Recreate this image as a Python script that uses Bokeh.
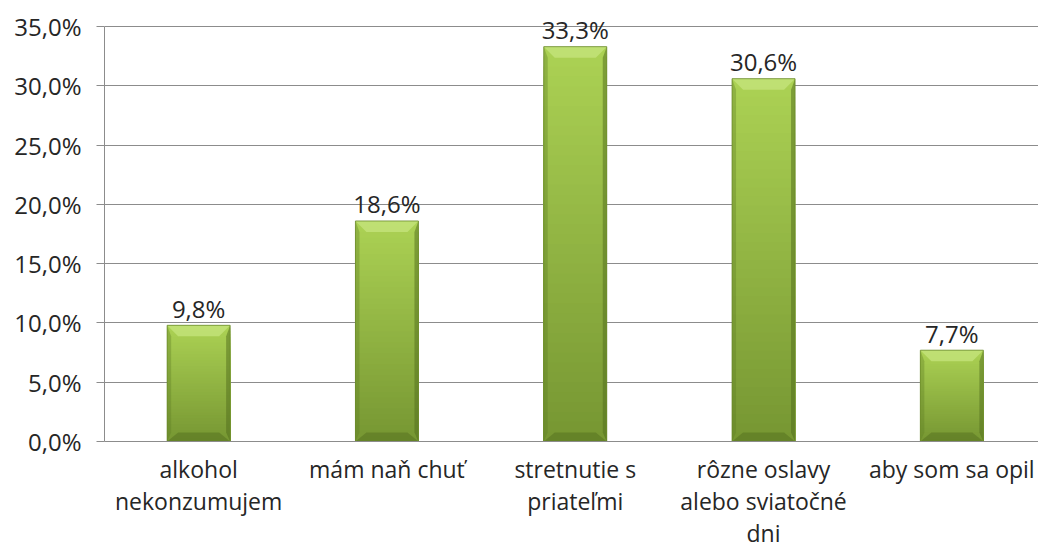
import numpy as np
from bokeh.plotting import figure
from bokeh.models import Range1d, FixedTicker
from bokeh.core.properties import value
from bokeh.embed import file_html
from bokeh.resources import INLINE

# Reasons for drinking alcohol (share of respondents, %)
categories = [
    "alkohol\nnekonzumujem",
    "mám naň chuť",
    "stretnutie s\npriateľmi",
    "rôzne oslavy\nalebo sviatočné\ndni",
    "aby som sa opil",
]
shares = [9.8, 18.6, 33.3, 30.6, 7.7]
y_ticks = [0, 5, 10, 15, 20, 25, 30, 35]
y_tick_labels = ["0,0%", "5,0%", "10,0%", "15,0%", "20,0%", "25,0%", "30,0%", "35,0%"]

FONT = "Open Sans"
TEXT_COLOR = "#262626"
GRID_COLOR = "#8c8c8c"

W, H = 1038, 551
LEFT, BOTTOM = 104, 110
frame_w = W - LEFT
frame_h = H - BOTTOM
PX_PER_CAT = 188.3          # horizontal pixels per category slot
PX_PER_PCT = 11.857         # vertical pixels per percentage point

xs = np.arange(len(categories)) + 0.5
vals = np.array(shares, dtype=float)

p = figure(
    width=W, height=H, output_backend="svg", toolbar_location=None,
    x_range=Range1d(0, frame_w / PX_PER_CAT),
    y_range=Range1d(0, frame_h / PX_PER_PCT),
    min_border_left=LEFT, min_border_right=0, min_border_top=0,
    min_border_bottom=BOTTOM,
)
p.outline_line_color = None
p.background_fill_color = "white"
p.border_fill_color = "white"

# grid
p.xgrid.visible = False
p.ygrid.ticker = FixedTicker(ticks=y_ticks)
p.ygrid.grid_line_color = GRID_COLOR
p.ygrid.grid_line_width = 1

# y axis
p.yaxis.ticker = FixedTicker(ticks=y_ticks)
p.yaxis.major_label_overrides = {t: s for t, s in zip(y_ticks, y_tick_labels)}
p.yaxis.bounds = (0, 35)
p.yaxis.axis_line_color = GRID_COLOR
p.yaxis.major_tick_line_color = GRID_COLOR
p.yaxis.major_tick_out = 8
p.yaxis.major_tick_in = 0
p.yaxis.minor_tick_line_color = None
p.yaxis.major_label_standoff = 15
p.yaxis.major_label_text_font = FONT
p.yaxis.major_label_text_font_size = "24px"
p.yaxis.major_label_text_color = TEXT_COLOR

# x axis
p.xaxis.ticker = FixedTicker(ticks=list(xs))
p.xaxis.major_label_overrides = {float(x): c for x, c in zip(xs, categories)}
p.xaxis.axis_line_color = GRID_COLOR
p.xaxis.major_tick_line_color = None
p.xaxis.major_tick_out = 0
p.xaxis.major_tick_in = 0
p.xaxis.minor_tick_line_color = None
p.xaxis.major_label_standoff = 11
p.xaxis.major_label_text_font = FONT
p.xaxis.major_label_text_font_size = "23px"
p.xaxis.major_label_text_color = TEXT_COLOR
p.xaxis.major_label_text_line_height = 1.0

# bars: vertical gradient body, drawn as nested quads from the top colour
# (full height) down to the bottom colour (shortest), so no seams appear
bar_w = 63 / PX_PER_CAT
half = bar_w / 2
top_rgb = np.array([172, 210, 84])
bot_rgb = np.array([118, 150, 50])
n_slices = 40
l, r, t, cols = [], [], [], []
for k in range(n_slices, 0, -1):
    frac = (k - 0.5) / n_slices
    c = bot_rgb + (top_rgb - bot_rgb) * frac
    hexc = "#%02x%02x%02x" % tuple(int(round(q)) for q in c)
    for x, v in zip(xs, vals):
        l.append(x - half)
        r.append(x + half)
        t.append(v * k / n_slices)
        cols.append(hexc)
p.quad(left=l, right=r, bottom=0, top=t, fill_color=cols, line_color=None)

# bevel facets
bx_top = 11 / PX_PER_CAT
by_top = 11 / PX_PER_PCT
bx_side = 4 / PX_PER_CAT
by_bot = 9 / PX_PER_PCT
top_x, top_y, side_l_x, side_l_y, side_r_x, side_r_y, bot_x, bot_y = ([] for _ in range(8))
for x, v in zip(xs, vals):
    xl, xr = x - half, x + half
    top_x.append([xl, xr, xr - bx_top, xl + bx_top])
    top_y.append([v, v, v - by_top, v - by_top])
    side_l_x.append([xl, xl + bx_side, xl + bx_side, xl])
    side_l_y.append([v, v - by_top, by_bot, 0])
    side_r_x.append([xr, xr - bx_side, xr - bx_side, xr])
    side_r_y.append([v, v - by_top, by_bot, 0])
    bot_x.append([xl, xr, xr - bx_top, xl + bx_top])
    bot_y.append([0, 0, by_bot, by_bot])
p.patches(top_x, top_y, fill_color="#c6e47e", fill_alpha=0.75, line_color=None)
p.patches(side_l_x, side_l_y, fill_color="#5c7a22", fill_alpha=0.35, line_color=None)
p.patches(side_r_x, side_r_y, fill_color="#4f6b1c", fill_alpha=0.5, line_color=None)
p.patches(bot_x, bot_y, fill_color="#4f6b1c", fill_alpha=0.45, line_color=None)

# thin outline around each bar
p.quad(left=xs - half, right=xs + half, bottom=0, top=vals,
       fill_color=None, line_color="#6a8a2a", line_width=1, line_alpha=0.8)

# value labels
labels = [f"{v:.1f}%".replace(".", ",") for v in shares]
p.text(x=xs, y=vals, text=labels, text_align="center", text_baseline="alphabetic",
       y_offset=-17, text_font=value(FONT), text_font_size="24px", text_color=TEXT_COLOR)

open("out.html", "w").write(file_html(p, INLINE))
